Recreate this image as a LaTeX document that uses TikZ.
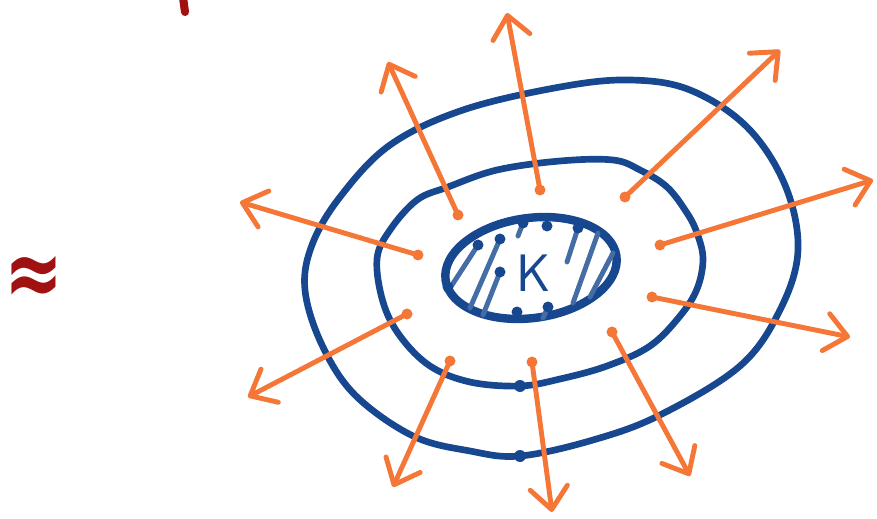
\documentclass[tikz,border=0pt]{standalone}
\usepackage{fontspec}
\newfontfamily\symbfont{DejaVu Sans}
\usetikzlibrary{arrows.meta,shapes.geometric}

\definecolor{inkblue}{HTML}{17488F}
\definecolor{inkorange}{HTML}{F47738}
\definecolor{inkred}{HTML}{A01212}

\begin{document}
\begin{tikzpicture}[
  x=0.2mm, y=-0.2mm,
  shell/.style={draw=inkblue, line width=3.8pt, line join=round},
  ray/.style={draw=inkorange, line width=2.8pt, line cap=round, -{Straight Barb[length=4.4mm, width=7.5mm, round]}},
  hatch/.style={draw=inkblue!80, line width=2.8pt, line cap=round},
  core/.style={ellipse, draw=inkblue, line width=4.8pt, minimum width=34.5mm, minimum height=20mm, inner sep=0pt}
]
\useasboundingbox (0,0) rectangle (877,519);

% outer and middle shells
\draw[shell] plot[smooth cycle, tension=0.6] coordinates {
  (305,290) (322,345) (355,395) (413,436) (470,451) (520,456) (593,440) (660,415)
  (740,366) (780,310) (798,250) (785,185) (747,127) (690,90) (630,80) (560,87)
  (463,110) (390,145) (340,197) (312,245)};
\draw[shell] plot[smooth cycle, tension=0.6] coordinates {
  (377,259) (383,302) (400,336) (430,366) (470,382) (520,386) (560,379) (607,366)
  (650,346) (680,316) (697,289) (703,259) (697,233) (687,213) (667,187) (640,170)
  (613,160) (560,161) (497,170) (448,187) (417,200) (390,230)};
\fill[inkblue] (520,386) circle (6);
\fill[inkblue] (520,456) circle (6);

% the core K
\node[core, rotate=8] (kern) at (531,268) {};
\node[text=inkblue, font=\sffamily\fontsize{30}{30}\selectfont] (klabel) at (534,273) {K};
\draw[hatch] (478,245) -- (452,285);
\draw[hatch] (500,239) -- (470,308);
\draw[hatch] (500,272) -- (483,315);
\draw[hatch] (523,223) -- (518,236);
\draw[hatch] (548,307) -- (543,318);
\draw[hatch] (578,228) -- (567,262);
\draw[hatch] (598,233) -- (573,303);
\draw[hatch] (613,253) -- (590,297);
\foreach \p in {(478,245),(500,239),(500,272),(523,223),(547,226),(578,228),(517,312),(548,307),(448,287)}
  \fill[inkblue] \p circle (5.5);

% rays
\coordinate (r1-s) at (458,215);  \coordinate (r1-t) at (388,62);
\coordinate (r2-s) at (540,190);  \coordinate (r2-t) at (507,13);
\coordinate (r3-s) at (625,197);  \coordinate (r3-t) at (780,50);
\coordinate (r4-s) at (660,245);  \coordinate (r4-t) at (873,180);
\coordinate (r5-s) at (652,297);  \coordinate (r5-t) at (850,337);
\coordinate (r6-s) at (612,332);  \coordinate (r6-t) at (690,476);
\coordinate (r7-s) at (532,362);  \coordinate (r7-t) at (552,512);
\coordinate (r8-s) at (450,361);  \coordinate (r8-t) at (393,487);
\coordinate (r9-s) at (407,314);  \coordinate (r9-t) at (248,397);
\coordinate (r10-s) at (418,255); \coordinate (r10-t) at (240,202);
\foreach \i in {1,...,10} {
  \draw[ray] (r\i-s) -- (r\i-t);
  \fill[inkorange] (r\i-s) circle (5.5);
}

% left margin marks
\node[text=inkred, font=\symbfont\bfseries\fontsize{40}{40}\selectfont] (approx) at (34,281) {\scalebox{1}[1.35]{≈}};
\draw[inkred, line width=4.6pt, line cap=round] (182,-10) -- (185,12);
\end{tikzpicture}
\end{document}
